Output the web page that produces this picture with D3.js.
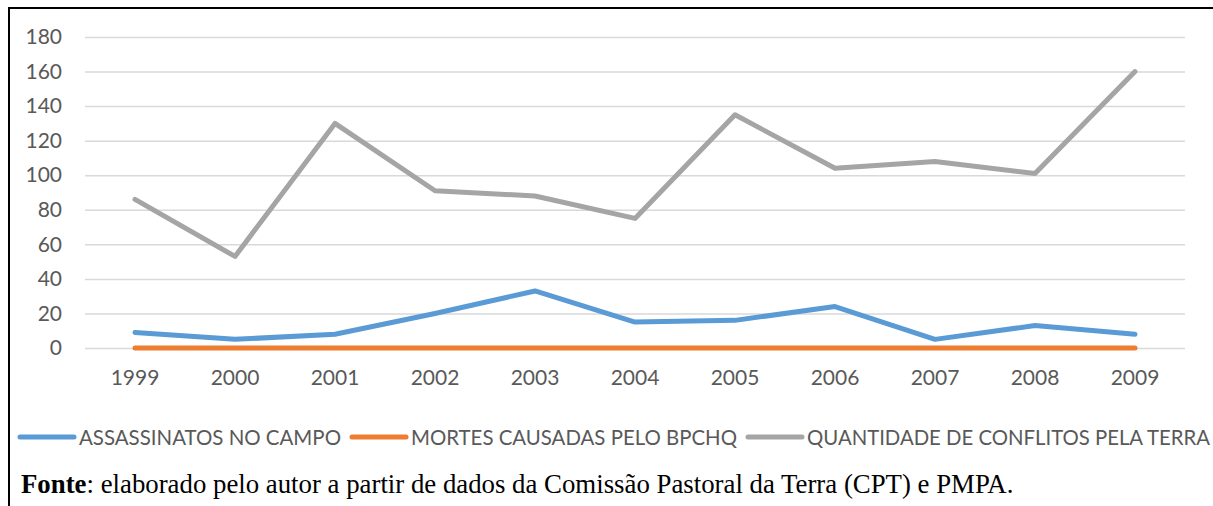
<!DOCTYPE html>
<html><head><meta charset="utf-8">
<script src="https://cdn.jsdelivr.net/npm/d3@7"></script>
<style>html,body{margin:0;padding:0;background:#fff;}svg{display:block;}</style>
</head><body>
<svg id="c" width="1213" height="506"></svg>
<script>
const years = ["1999","2000","2001","2002","2003","2004","2005","2006","2007","2008","2009"];
const assassinatos = [9, 5, 8, 20, 33, 15, 16, 24, 5, 13, 8];
const mortesBpchq = [0, 0, 0, 0, 0, 0, 0, 0, 0, 0, 0];
const conflitos = [86, 53, 130, 91, 88, 75, 135, 104, 108, 101, 160];
const yTicks = [0, 20, 40, 60, 80, 100, 120, 140, 160, 180];
const seriesNames = ["ASSASSINATOS NO CAMPO", "MORTES CAUSADAS PELO BPCHQ", "QUANTIDADE DE CONFLITOS PELA TERRA"];
const seriesColors = ["#5B9BD5", "#ED7D31", "#A5A5A5"];
const sourceBold = "Fonte";
const sourceRest = ": elaborado pelo autor a partir de dados da Comissão Pastoral da Terra (CPT) e PMPA.";

const svg = d3.select("#c");
const font = "Lato, 'Open Sans', sans-serif";

// frame
svg.append("line").attr("x1", 9).attr("x2", 1213).attr("y1", 8).attr("y2", 8).attr("stroke", "#000").attr("stroke-width", 2);
svg.append("line").attr("x1", 9).attr("x2", 9).attr("y1", 7).attr("y2", 506).attr("stroke", "#000").attr("stroke-width", 2);

const x = d3.scaleBand().domain(years).range([85, 1185]);
const y = d3.scaleLinear().domain([0, 180]).range([348, 37]);
const cx = d => x(d) + x.bandwidth() / 2;

// gridlines
const yAxis = d3.axisLeft(y).tickValues(yTicks).tickSize(-1100).tickPadding(23);
const gy = svg.append("g").attr("transform", "translate(85,0)").call(yAxis);
gy.select(".domain").remove();
gy.selectAll(".tick line").attr("stroke", "#D9D9D9").attr("stroke-width", 1.5);
gy.selectAll(".tick text").attr("fill", "#595959").attr("font-family", font).attr("font-size", 21);

const xAxis = d3.axisBottom(x).tickSize(0).tickPadding(22);
const gx = svg.append("g").attr("transform", "translate(0,348)").call(xAxis);
gx.select(".domain").remove();
gx.selectAll(".tick text").attr("fill", "#595959").attr("font-family", font).attr("font-size", 21);

const line = d3.line().x((d, i) => cx(years[i])).y(d => y(d));
[assassinatos, mortesBpchq, conflitos].forEach((s, k) => {
  svg.append("path").datum(s).attr("d", line).attr("fill", "none")
    .attr("stroke", seriesColors[k]).attr("stroke-width", 5)
    .attr("stroke-linecap", "round").attr("stroke-linejoin", "round");
});

// legend
const legendX = [20, 352, 748];
const legendW = [262, 326, 403];
const lg = svg.append("g");
seriesNames.forEach((n, i) => {
  lg.append("line").attr("x1", legendX[i]).attr("x2", legendX[i] + 54).attr("y1", 437).attr("y2", 437)
    .attr("stroke", seriesColors[i]).attr("stroke-width", 5).attr("stroke-linecap", "round");
  lg.append("text").attr("x", legendX[i] + 59).attr("y", 445).text(n)
    .attr("fill", "#595959").attr("font-family", font).attr("font-size", 20.5)
    .attr("textLength", legendW[i]).attr("lengthAdjust", "spacingAndGlyphs");
});

// source
const t = svg.append("text").attr("x", 21).attr("y", 493)
  .attr("font-family", "'Liberation Serif', 'Times New Roman', serif").attr("font-size", 26.8).attr("fill", "#000");
t.append("tspan").attr("font-weight", "bold").text(sourceBold);
t.append("tspan").text(sourceRest);
</script>
</body></html>
